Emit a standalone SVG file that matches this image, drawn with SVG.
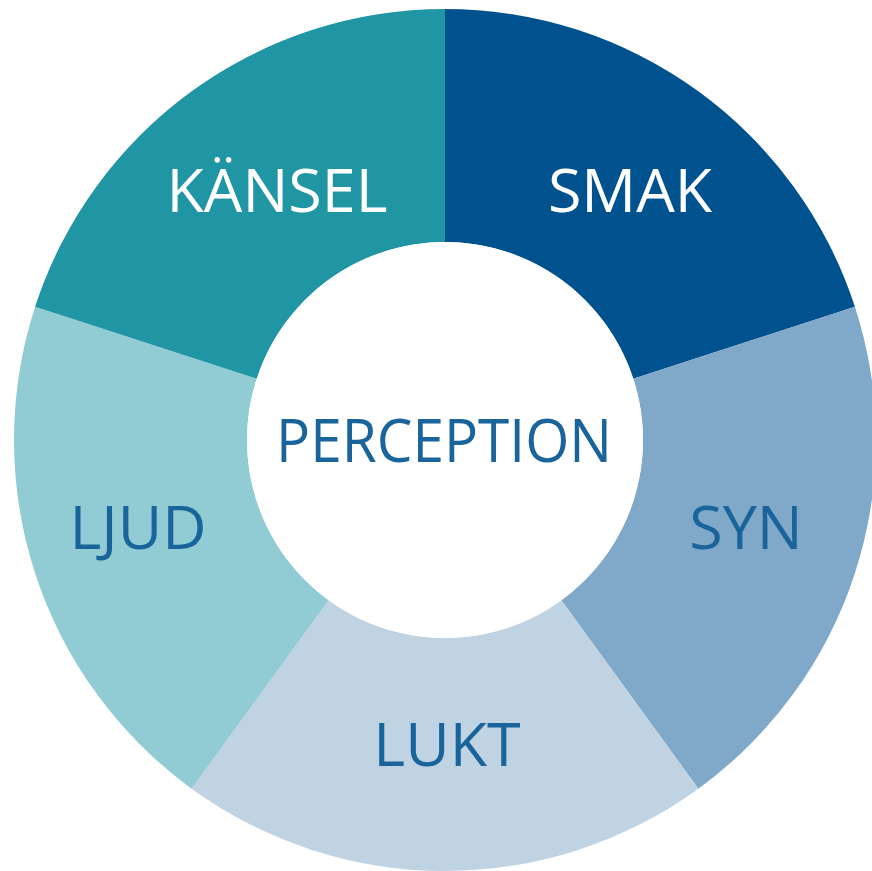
<svg xmlns="http://www.w3.org/2000/svg" width="872" height="871" viewBox="0 0 872 871">
<style>
.lbl{font-family:"Open Sans","Noto Sans","Liberation Sans",sans-serif;font-size:61px;text-anchor:middle}
.w{fill:#ffffff}
.b{fill:#19649a}
</style>
<rect width="872" height="871" fill="#ffffff"/>
<g id="smak">
<path d="M445,9 A431,431 0 0 1 854.91,306.81 L633.31,378.81 A198,198 0 0 0 445,242 Z" fill="#00528f"/>
<text class="lbl w" x="630" y="212">SMAK</text>
</g>
<g id="syn">
<path d="M854.91,306.81 A431,431 0 0 1 698.34,788.69 L561.38,600.19 A198,198 0 0 0 633.31,378.81 Z" fill="#80a8c9"/>
<text class="lbl b" x="746" y="549">SYN</text>
</g>
<g id="lukt">
<path d="M698.34,788.69 A431,431 0 0 1 191.66,788.69 L328.62,600.19 A198,198 0 0 0 561.38,600.19 Z" fill="#c0d3e3"/>
<text class="lbl b" x="447" y="766">LUKT</text>
</g>
<g id="ljud">
<path d="M191.66,788.69 A431,431 0 0 1 35.09,306.81 L256.69,378.81 A198,198 0 0 0 328.62,600.19 Z" fill="#91cbd4"/>
<text class="lbl b" x="138" y="549">LJUD</text>
</g>
<g id="kansel">
<path d="M35.09,306.81 A431,431 0 0 1 445,9 L445,242 A198,198 0 0 0 256.69,378.81 Z" fill="#2095a3"/>
<text class="lbl w" x="277" y="212">KÄNSEL</text>
</g>
<g id="perception">
<circle cx="445" cy="440" r="198" fill="#ffffff"/>
<text class="lbl b" x="444" y="462" textLength="336" lengthAdjust="spacingAndGlyphs">PERCEPTION</text>
</g>
<g id="connectors"/>
</svg>
